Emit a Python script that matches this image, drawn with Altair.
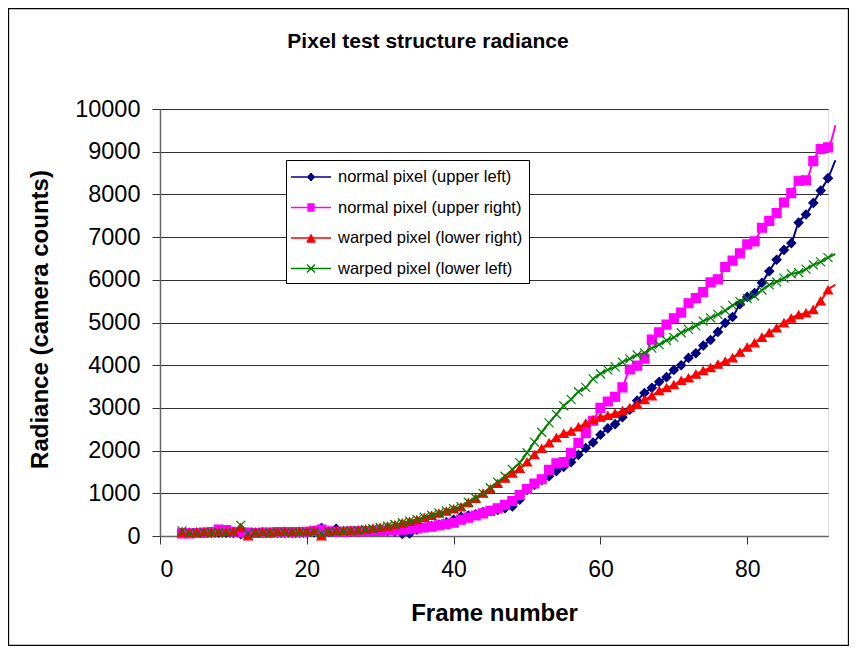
import altair as alt
import pandas as pd

frames = list(range(3, 93))

upper_left = [80, 70, 75, 70, 80, 75, 80, 70, 40, 60, 70, 75, 70, 75, 80, 75, 80, 85, 90, 190,
              100, 170, 110, 100, 105, 110, 110, 120, 110, 100, 50, 60, 150, 200, 230, 270, 320, 380,
              450, 480, 510, 560, 580, 610, 650, 690, 850, 1080, 1200, 1310, 1400, 1520, 1620, 1730,
              1900, 2060, 2190, 2370, 2520, 2620, 2780, 2960, 3170, 3350, 3470, 3610, 3720, 3890,
              4000, 4170, 4280, 4460, 4590, 4780, 4990, 5130, 5430, 5600, 5690, 5930, 6200, 6470,
              6700, 6860, 7340, 7530, 7800, 8090, 8380, 8800]

upper_right = [60, 60, 70, 80, 90, 150, 140, 100, 90, 80, 70, 80, 80, 90, 90, 90, 90, 100, 120, 150,
               110, 100, 100, 110, 110, 110, 120, 120, 130, 140, 150, 160, 180, 200, 220, 250, 280, 310,
               380, 430, 480, 530, 590, 650, 730, 820, 960, 1100, 1230, 1330, 1550, 1700, 1730, 1950,
               2180, 2410, 2700, 3000, 3150, 3260, 3480, 3900, 3990, 4150, 4600, 4770, 4950, 5100,
               5230, 5450, 5570, 5710, 5940, 6010, 6300, 6450, 6620, 6830, 6900, 7220, 7380, 7560,
               7810, 8030, 8320, 8330, 8780, 9060, 9100, 9620]

lower_right = [90, 80, 90, 100, 90, 100, 100, 110, 200, 0, 90, 100, 90, 100, 110, 100, 110, 110, 120, 0,
               110, 120, 130, 130, 140, 160, 180, 200, 230, 260, 300, 340, 380, 430, 480, 530, 580, 630,
               680, 780, 880, 1000, 1100, 1230, 1350, 1470, 1580, 1730, 1900, 2050, 2180, 2300, 2400,
               2450, 2550, 2640, 2720, 2780, 2820, 2870, 2930, 3000, 3080, 3190, 3280, 3400, 3470,
               3540, 3640, 3700, 3790, 3870, 3940, 4020, 4090, 4170, 4300, 4420, 4520, 4650, 4760,
               4870, 4990, 5100, 5180, 5220, 5300, 5500, 5760, 5880]

lower_left = [120, 70, 60, 80, 70, 80, 60, 80, 250, 60, 70, 60, 70, 80, 70, 80, 70, 90, 90, 60,
              100, 90, 110, 120, 130, 150, 170, 200, 230, 270, 310, 350, 390, 440, 490, 540, 590, 640,
              690, 790, 890, 1000, 1130, 1260, 1400, 1560, 1720, 1950, 2200, 2430, 2650, 2850, 3050,
              3200, 3380, 3480, 3680, 3800, 3890, 3960, 4070, 4150, 4240, 4290, 4400, 4480, 4580,
              4650, 4760, 4840, 4920, 5030, 5110, 5190, 5280, 5400, 5490, 5560, 5620, 5760, 5880,
              5950, 6040, 6140, 6170, 6250, 6350, 6420, 6520, 6600]

series_names = ["normal pixel (upper left)", "normal pixel (upper right)",
                "warped pixel (lower right)", "warped pixel (lower left)"]
colors = ["#000080", "#FF00FF", "#FF0000", "#008000"]
marker_shapes = ["diamond", "square", "triangle-up", "M-1,-1L1,1M-1,1L1,-1"]


def hatch(half_width_at, y0, y1, n):
    """Build a legend glyph path: a line through the centre plus hatched strokes that read as a filled marker."""
    parts = ["M-2,0H2"]
    for i in range(n + 1):
        y = y0 + (y1 - y0) * i / n
        w = half_width_at(y)
        if w > 0.01:
            parts.append(f"M{-w:.3f},{y:.3f}H{w:.3f}")
    return "".join(parts)


diamond_path = hatch(lambda y: 0.42 - abs(y), -0.42, 0.42, 8)
square_path = hatch(lambda y: 0.36, -0.36, 0.36, 7)
triangle_path = hatch(lambda y: 0.45 * (y + 0.45) / 0.85, -0.45, 0.40, 8)
cross_path = "M-2,0H2M-0.4,-0.4L0.4,0.4M-0.4,0.4L0.4,-0.4"
legend_shapes = [diamond_path, square_path, triangle_path, cross_path]

rows = []
for name, vals in zip(series_names, [upper_left, upper_right, lower_right, lower_left]):
    for f, v in zip(frames, vals):
        rows.append({"frame": f, "radiance": v, "series": name})
df = pd.DataFrame(rows)
legend_df = pd.DataFrame({"series": series_names})

FONT = "Liberation Sans"

x_enc = alt.X("frame:Q",
              scale=alt.Scale(domain=[0, 91], nice=False, zero=False),
              axis=alt.Axis(values=[0, 20, 40, 60, 80], grid=False, tickSize=8,
                            tickColor="#333333", domainColor="#666666", domainWidth=1.5,
                            labelFont=FONT, labelFontSize=23, labelColor="black",
                            labelPadding=14, title="Frame number", titleFont=FONT,
                            titleFontSize=24, titleFontWeight="bold", titleColor="black",
                            titleY=77, titleBaseline="middle"))
y_enc = alt.Y("radiance:Q",
              scale=alt.Scale(domain=[0, 10000], nice=False),
              axis=alt.Axis(values=list(range(0, 10001, 1000)), format="d", grid=True,
                            gridColor="#303030", gridWidth=1, tickSize=8, tickColor="#333333",
                            domainColor="#666666", domainWidth=1.5,
                            labelFont=FONT, labelFontSize=23.5, labelColor="black",
                            labelPadding=12, title="Radiance (camera counts)", titleFont=FONT,
                            titleFontSize=24, titleFontWeight="bold", titleColor="black",
                            titleX=-120, titleY=210, titleBaseline="middle", titleAlign="center",
                            titleAngle=270))

color_scale = alt.Scale(domain=series_names, range=colors)

lines = alt.Chart(df).mark_line(strokeWidth=2, interpolate="monotone", clip=False).encode(
    x=x_enc, y=y_enc,
    color=alt.Color("series:N", scale=color_scale, legend=None),
    order=alt.Order("frame:Q"),
)

markers = alt.Chart(df).transform_filter("datum.frame <= 91").mark_point(
    filled=True, size=80, strokeWidth=1.2, opacity=1, clip=False).encode(
    x="frame:Q", y="radiance:Q",
    fill=alt.Fill("series:N", scale=color_scale, legend=None),
    stroke=alt.Stroke("series:N", scale=color_scale, legend=None),
    shape=alt.Shape("series:N", scale=alt.Scale(domain=series_names, range=marker_shapes), legend=None),
)

legend_layer = alt.Chart(legend_df).mark_point(filled=False, size=400, opacity=0).encode(
    stroke=alt.Stroke("series:N", scale=color_scale,
                      legend=alt.Legend(orient="none", legendX=126, legendY=51, title=None,
                                        symbolSize=400, symbolStrokeWidth=1.5,
                                        labelFont=FONT, labelFontSize=16.5, labelColor="black",
                                        padding=6, rowPadding=10.5, symbolOffset=8, labelOffset=16,
                                        strokeColor="black", fillColor="white", labelLimit=400)),
    shape=alt.Shape("series:N", scale=alt.Scale(domain=series_names, range=legend_shapes)),
)

frame_rect = alt.Chart(pd.DataFrame({"a": [0]})).mark_rect(
    filled=False, stroke="black", strokeWidth=1.3, clip=False).encode(
    x=alt.value(-151.5), x2=alt.value(688.5), y=alt.value(-100.5), y2=alt.value(536.5))

chart = alt.layer(frame_rect, lines, markers, legend_layer).resolve_scale(
    color="independent", fill="independent", stroke="independent", shape="independent"
).resolve_legend(
    color="independent", fill="independent", stroke="independent", shape="independent"
).properties(
    width=668, height=427,
    title=alt.TitleParams("Pixel test structure radiance", font=FONT, fontSize=21,
                          fontWeight="bold", color="black", anchor="middle", frame="group",
                          dx=-66, offset=-44),
    padding={"left": 152, "top": 101, "right": 21, "bottom": 110},
    autosize=alt.AutoSizeParams(type="none"),
).configure_view(stroke=None).configure(background="white")

chart.save("out.html", embed_options={"renderer": "svg", "actions": False})
